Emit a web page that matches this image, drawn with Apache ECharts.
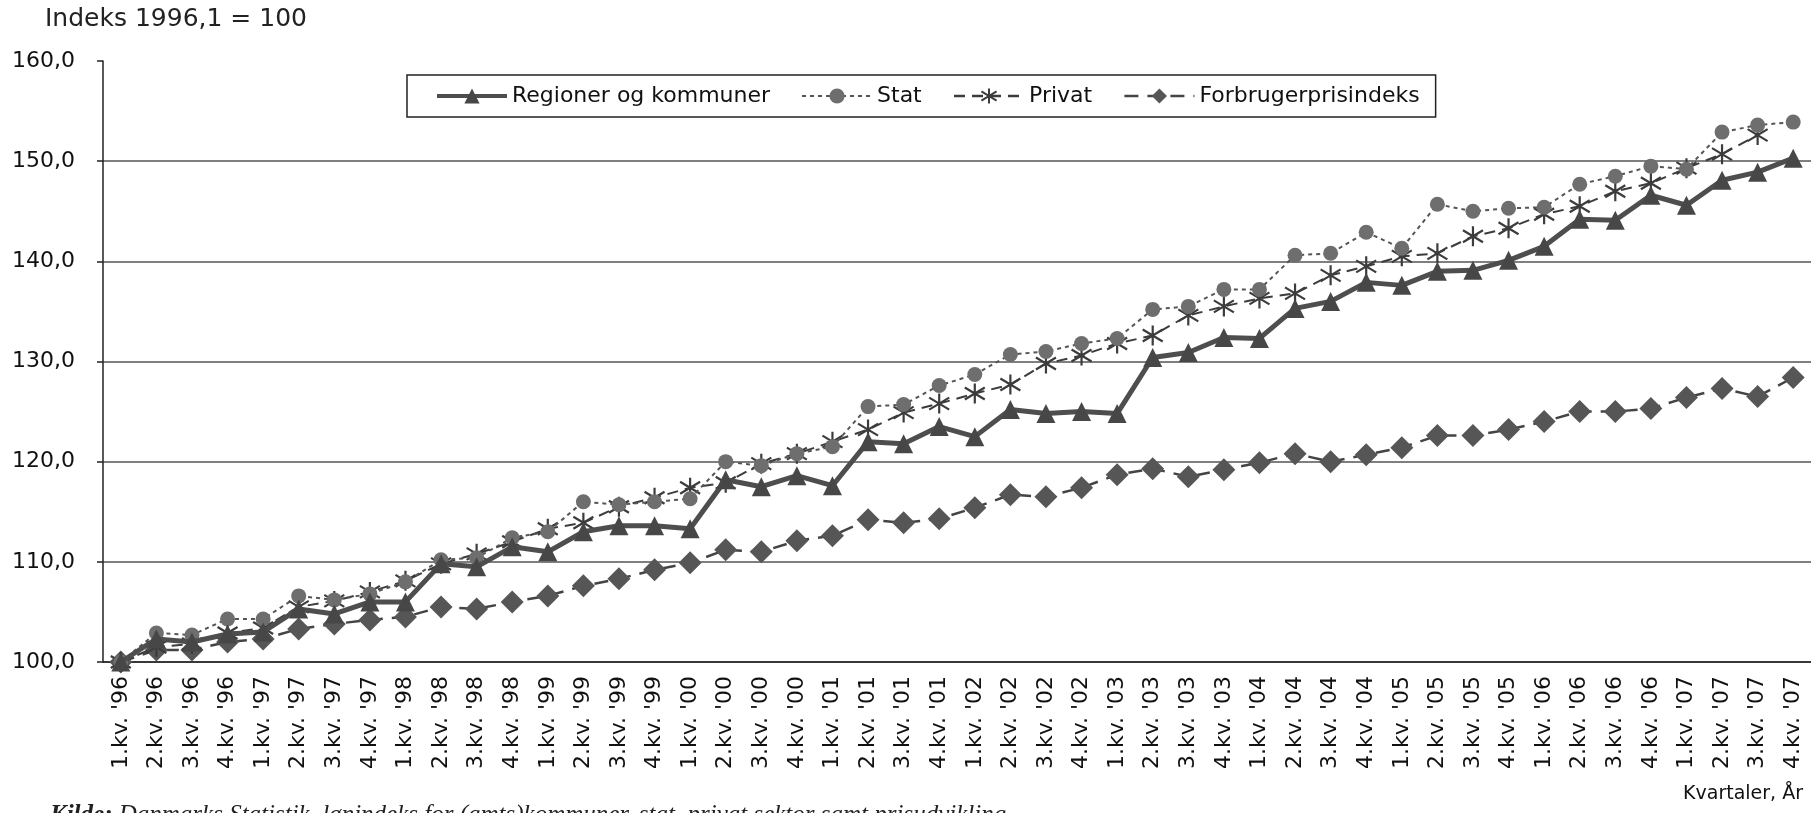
<!DOCTYPE html>
<html>
<head>
	<meta charset="utf-8" />
	<title>Lønindeks</title>
	<script src="https://cdn.jsdelivr.net/npm/echarts@6/dist/echarts.min.js"></script>
	<style>
		* {
			margin: 0;
			padding: 0;
		}

		html,
		body {
			width: 1811px;
			height: 813px;
			background: #fff;
			overflow: hidden;
		}

		#main {
			width: 1811px;
			height: 813px;
		}
	</style>
</head>
<body>
	<div id="main"></div>
	<script>
		// kvartaler 1996-2007
		var quarters = [
			"1.kv. '96", "2.kv. '96", "3.kv. '96", "4.kv. '96",
			"1.kv. '97", "2.kv. '97", "3.kv. '97", "4.kv. '97",
			"1.kv. '98", "2.kv. '98", "3.kv. '98", "4.kv. '98",
			"1.kv. '99", "2.kv. '99", "3.kv. '99", "4.kv. '99",
			"1.kv. '00", "2.kv. '00", "3.kv. '00", "4.kv. '00",
			"1.kv. '01", "2.kv. '01", "3.kv. '01", "4.kv. '01",
			"1.kv. '02", "2.kv. '02", "3.kv. '02", "4.kv. '02",
			"1.kv. '03", "2.kv. '03", "3.kv. '03", "4.kv. '03",
			"1.kv. '04", "2.kv. '04", "3.kv. '04", "4.kv. '04",
			"1.kv. '05", "2.kv. '05", "3.kv. '05", "4.kv. '05",
			"1.kv. '06", "2.kv. '06", "3.kv. '06", "4.kv. '06",
			"1.kv. '07", "2.kv. '07", "3.kv. '07", "4.kv. '07"
		];

		var regioner = [
			100.0, 102.3, 102.0, 102.8, 103.0, 105.3, 104.8, 106.0,
			106.0, 109.8, 109.5, 111.5, 111.0, 113.0, 113.6, 113.6,
			113.3, 118.2, 117.5, 118.6, 117.6, 122.0, 121.8, 123.5,
			122.5, 125.2, 124.8, 125.0, 124.8, 130.4, 130.9, 132.4,
			132.3, 135.3, 136.0, 137.9, 137.6, 139.0, 139.1, 140.1,
			141.5, 144.2, 144.1, 146.6, 145.6, 148.1, 148.9, 150.3
		];

		var stat = [
			100.0, 102.9, 102.7, 104.3, 104.3, 106.6, 106.2, 106.8,
			108.0, 110.2, 110.4, 112.4, 113.0, 116.0, 115.7, 116.0,
			116.3, 120.0, 119.6, 120.8, 121.5, 125.5, 125.7, 127.6,
			128.7, 130.7, 131.0, 131.8, 132.3, 135.2, 135.5, 137.2,
			137.2, 140.6, 140.8, 142.9, 141.3, 145.7, 145.0, 145.3,
			145.4, 147.7, 148.5, 149.5, 149.2, 152.9, 153.6, 153.9
		];

		var privat = [
			100.0, 101.5, 101.8, 102.9, 103.4, 105.5, 106.1, 107.0,
			108.1, 109.8, 110.8, 112.0, 113.3, 113.9, 115.5, 116.4,
			117.4, 117.9, 119.8, 120.8, 122.0, 123.2, 124.9, 125.8,
			126.8, 127.7, 129.8, 130.6, 131.8, 132.6, 134.6, 135.5,
			136.3, 136.8, 138.6, 139.5, 140.5, 140.8, 142.5, 143.3,
			144.7, 145.5, 147.0, 147.8, 149.3, 150.7, 152.6, '-'
		];

		var forbrug = [
			100.0, 101.2, 101.2, 102.0, 102.3, 103.3, 103.8, 104.2,
			104.5, 105.5, 105.3, 106.0, 106.6, 107.6, 108.3, 109.2,
			109.9, 111.2, 111.0, 112.1, 112.6, 114.2, 113.9, 114.3,
			115.4, 116.7, 116.5, 117.4, 118.7, 119.3, 118.5, 119.2,
			119.9, 120.8, 120.0, 120.7, 121.4, 122.6, 122.6, 123.2,
			124.0, 125.0, 125.0, 125.3, 126.4, 127.3, 126.5, 128.4
		];

		var yTicks = [100, 110, 120, 130, 140, 150, 160];

		var font = 'DejaVu Sans, Liberation Sans, sans-serif';
		var star = 'path://M10,0L10,20M2,4L18,16M2,16L18,4';

		var myChart = echarts.init(document.getElementById('main'));
		var option = {
			animation: false,
			backgroundColor: '#fff',
			textStyle: { fontFamily: font, color: '#111' },
			title: {
				text: 'Indeks 1996,1 = 100',
				left: 40,
				top: 2,
				textStyle: { fontSize: 25, fontWeight: 'normal', color: '#222', fontFamily: font }
			},
			legend: {
				left: 407,
				top: 75,
				padding: [10, 16, 10, 28],
				borderColor: '#222',
				borderWidth: 1.5,
				itemWidth: 70,
				itemHeight: 19,
				itemGap: 31,
				textStyle: { fontSize: 22, color: '#111', fontFamily: font },
				data: [
					{ name: 'Regioner og kommuner', lineStyle: { width: 4 } },
					{ name: 'Stat', lineStyle: { width: 2 } },
					{ name: 'Privat', lineStyle: { width: 2.5 } },
					{ name: 'Forbrugerprisindeks', lineStyle: { width: 2.5 } }
				]
			},
			grid: {
				left: 103,
				top: 61,
				width: 1709,
				height: 601
			},
			xAxis: {
				type: 'category',
				data: quarters,
				boundaryGap: true,
				axisLine: { lineStyle: { color: '#222', width: 1.5 } },
				axisTick: { interval: 0, length: 7, lineStyle: { color: '#222', width: 1.5 } },
				axisLabel: {
					interval: 0,
					rotate: 90,
					margin: 14,
					fontSize: 22,
					color: '#111',
					fontFamily: font
				}
			},
			yAxis: {
				type: 'value',
				min: yTicks[0],
				max: yTicks[yTicks.length - 1],
				interval: 10,
				axisLine: { show: true, lineStyle: { color: '#222', width: 1.5 } },
				axisTick: { show: true, length: 6, lineStyle: { color: '#222', width: 1.5 } },
				axisLabel: {
					margin: 28,
					fontSize: 22,
					color: '#111',
					fontFamily: font,
					formatter: function (v) { return v.toFixed(1).replace('.', ','); }
				},
				splitLine: {
					show: true,
					lineStyle: {
						color: ['#555', '#555', '#555', '#555', '#555', '#555', 'rgba(0,0,0,0)'],
						width: 1.5
					}
				}
			},
			graphic: [
				{
					type: 'text',
					right: 8,
					top: 785,
					style: { text: 'Kvartaler, År', fontSize: 19, fill: '#111', fontFamily: font }
				},
				{
					type: 'text',
					left: 50,
					top: 803,
					style: {
						text: '{b|Kilde:} Danmarks Statistik, lønindeks for (amts)kommuner, stat, privat sektor samt prisudvikling',
						fontSize: 25,
						fontStyle: 'italic',
						fill: '#222',
						fontFamily: 'Liberation Serif, serif',
						rich: { b: { fontWeight: 'bold', fontStyle: 'italic', fontSize: 25, fontFamily: 'Liberation Serif, serif', fill: '#222' } }
					}
				}
			],
			series: [
				{
					name: 'Forbrugerprisindeks',
					type: 'line',
					data: forbrug,
					symbol: 'diamond',
					symbolSize: 23,
					itemStyle: { color: '#565656' },
					lineStyle: { color: '#444', width: 2.5, type: [14, 9] },
					z: 2
				},
				{
					name: 'Privat',
					type: 'line',
					data: privat,
					symbol: star,
					symbolSize: 20,
					itemStyle: { color: 'none', borderColor: '#3c3c3c', borderWidth: 2.2 },
					lineStyle: { color: '#3c3c3c', width: 2, type: [11, 7] },
					z: 3
				},
				{
					name: 'Stat',
					type: 'line',
					data: stat,
					symbol: 'circle',
					symbolSize: 15,
					itemStyle: { color: '#6e6e6e' },
					lineStyle: { color: '#555', width: 2, type: [4, 4] },
					z: 4
				},
				{
					name: 'Regioner og kommuner',
					type: 'line',
					data: regioner,
					symbol: 'triangle',
					symbolSize: 19,
					itemStyle: { color: '#474747' },
					lineStyle: { color: '#4e4e4e', width: 5 },
					z: 5
				}
			]
		};
		myChart.setOption(option);
	</script>
</body>
</html>
